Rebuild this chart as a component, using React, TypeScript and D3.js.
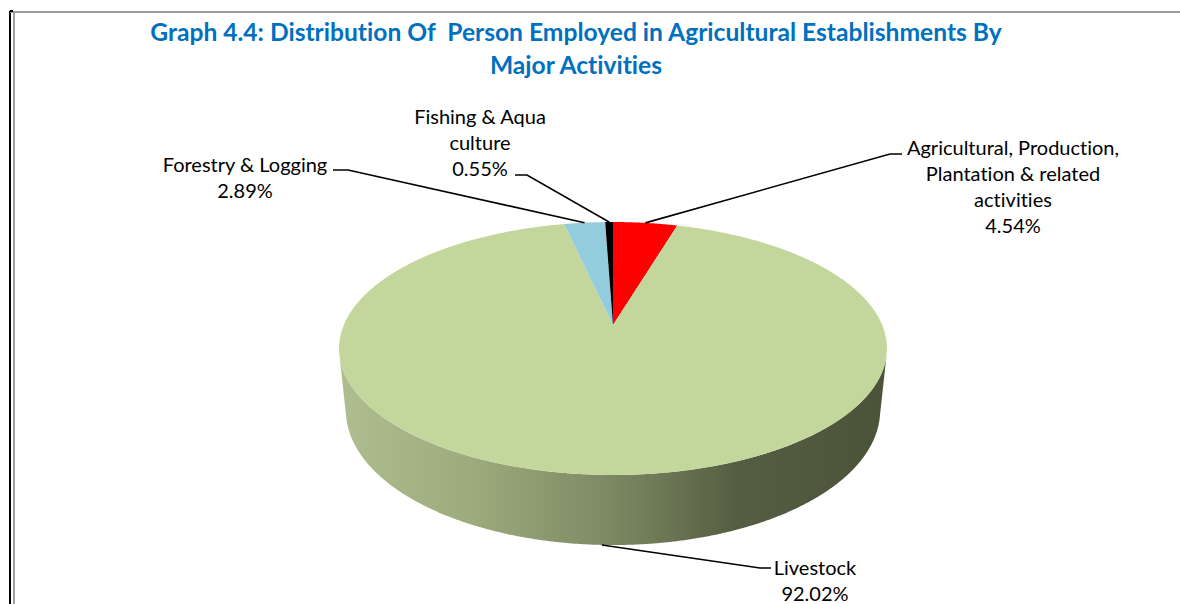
import React from "react";
import * as d3 from "d3";

const categories = [
  "Agricultural, Production, Plantation & related activities",
  "Livestock",
  "Forestry & Logging",
  "Fishing & Aqua culture",
];
const values = [4.54, 92.02, 2.89, 0.55];
const colors = ["#ff0000", "#c3d69b", "#93cddd", "#000000"];
const labelLines = [
  ["Agricultural, Production,", "Plantation & related", "activities"],
  ["Livestock"],
  ["Forestry & Logging"],
  ["Fishing & Aqua", "culture"],
];
const titleLines = [
  "Graph 4.4: Distribution Of  Person Employed in Agricultural Establishments By",
  "Major Activities",
];

// layout (label anchors and leader elbows)
const labelPos = [
  { x: 1013, y: 155, elbow: [890, 154], end: [902, 154] },
  { x: 815, y: 575, elbow: [760, 568], end: [771, 568] },
  { x: 245, y: 172, elbow: [348, 170], end: [333, 170] },
  { x: 480, y: 124, elbow: [527, 175], end: [515, 175] },
];

const W = 1180;
const H = 604;
const cx = 613;
const cy = 325;
const F = 1292;
const Dd = 4.8;
const sPhi = 0.4537;
const cPhi = Math.sqrt(1 - sPhi * sPhi);
const depthH = 0.2605;

function project(theta: number, Y: number, r = 1): [number, number] {
  const X = r * Math.sin(theta);
  const Z = -r * Math.cos(theta);
  const depth = Dd - Y * sPhi - Z * cPhi;
  return [cx + (F * X) / depth, cy - (F * (Y * cPhi - Z * sPhi)) / depth];
}

function arcPts(a0: number, a1: number, Y: number): [number, number][] {
  const n = Math.max(2, Math.ceil(Math.abs(a1 - a0) / 0.005));
  const pts: [number, number][] = [];
  for (let i = 0; i <= n; i++) pts.push(project(a0 + ((a1 - a0) * i) / n, Y));
  return pts;
}

export default function App() {
  const pie = d3
    .pie<number>()
    .sort(null)
    .value((d) => d)
    .startAngle(0)
    .endAngle(2 * Math.PI);
  const arcs = pie(values);
  const line = d3.line<[number, number]>().x((d) => d[0]).y((d) => d[1]);

  const apex = project(0, 0, 0);
  const z0 = 1 / (Dd * cPhi);
  const tR = Math.acos(-z0);
  const tL = 2 * Math.PI - tR;
  const sideTop = arcPts(tR, tL, 0);
  const sideBot = arcPts(tL, tR, -depthH);
  const sidePath = line([...sideTop, ...sideBot]) + "Z";

  const leftX = cx - 280;
  const rightX = cx + 280;

  const font = "Lato, 'Open Sans', sans-serif";
  const noLig = { fontVariantLigatures: "none", fontFeatureSettings: '"liga" 0' } as React.CSSProperties;

  return (
    <div style={{ position: "absolute", left: 0, top: 0 }}>
      <svg width={W} height={H} viewBox={`0 0 ${W} ${H}`}>
        <defs>
          <linearGradient
            id="sideGrad"
            gradientUnits="userSpaceOnUse"
            x1={leftX}
            y1={0}
            x2={rightX}
            y2={0}
          >
            <stop offset="0%" stopColor="#b0bf91" />
            <stop offset="25%" stopColor="#9cab7c" />
            <stop offset="50%" stopColor="#7c8862" />
            <stop offset="72%" stopColor="#555e42" />
            <stop offset="100%" stopColor="#4a5238" />
          </linearGradient>
        </defs>
        <rect x={0} y={0} width={W} height={H} fill="#ffffff" />
        {/* frame */}
        <line x1={10} y1={11} x2={10} y2={H} stroke="#000" strokeWidth={2} />
        <line x1={10} y1={12} x2={W} y2={12} stroke="#9a9a9a" strokeWidth={2} />
        <line x1={10} y1={11} x2={13} y2={11} stroke="#000" strokeWidth={2} />
        <line x1={14} y1={13} x2={14} y2={H} stroke="#a0a0a0" strokeWidth={2} />

        {/* title */}
        {titleLines.map((t, i) => (
          <text
            key={i}
            x={576}
            y={41 + i * 33}
            textAnchor="middle"
            fontFamily={font}
            fontWeight="bold"
            fontSize={24.6}
            fill="#0070c0"
            style={{ whiteSpace: "pre", ...noLig }}
          >
            {t}
          </text>
        ))}

        {/* side */}
        <path d={sidePath} fill="url(#sideGrad)" />

        {/* top slices */}
        {arcs.map((a, i) => {
          const pts = [apex, ...arcPts(a.startAngle, a.endAngle, 0)];
          return <path key={i} d={line(pts) + "Z"} fill={colors[i]} />;
        })}

        {/* leader lines and labels */}
        {arcs.map((a, i) => {
          const mid = (a.startAngle + a.endAngle) / 2;
          const onFront = Math.cos(mid) < -z0;
          const p = project(mid, onFront ? -depthH : 0);
          const lp = labelPos[i];
          const lines = [...labelLines[i], `${values[i].toFixed(2)}%`];
          return (
            <g key={i}>
              <polyline
                points={`${p[0]},${p[1]} ${lp.elbow[0]},${lp.elbow[1]} ${lp.end[0]},${lp.end[1]}`}
                fill="none"
                stroke="#000"
                strokeWidth={1.6}
              />
              {lines.map((t, j) => (
                <text
                  key={j}
                  x={lp.x}
                  y={lp.y + j * 26}
                  textAnchor="middle"
                  fontFamily={font}
                  fontSize={20}
                  fill="#000"
                  style={noLig}
                >
                  {t}
                </text>
              ))}
            </g>
          );
        })}
      </svg>
    </div>
  );
}
